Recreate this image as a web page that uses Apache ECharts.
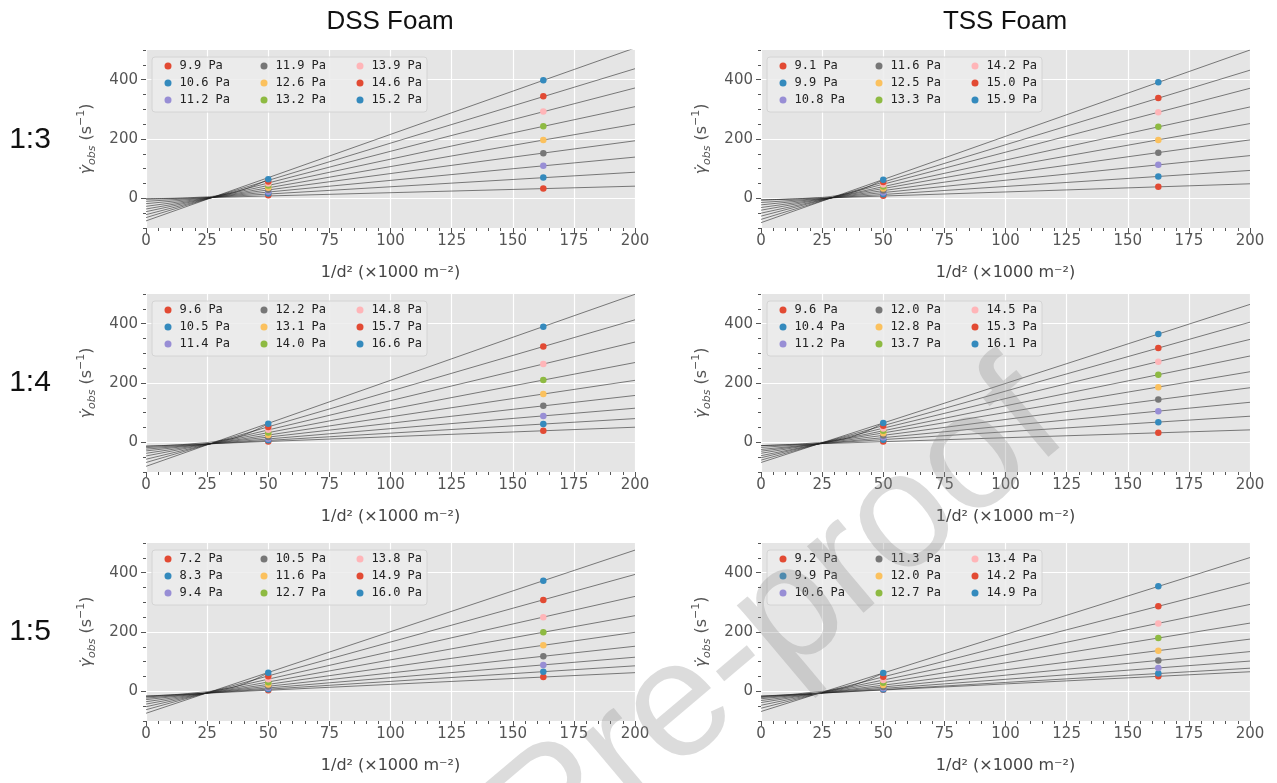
<!DOCTYPE html>
<html lang="en">
<head>
  <meta charset="UTF-8">
  <title>DSS / TSS Foam</title>
  <script src="https://cdn.jsdelivr.net/npm/echarts@6/dist/echarts.min.js"></script>
</head>
<body style="margin:0;background:#fff">
  <div id="main" style="width:1277px;height:783px;"></div>

<script>
  // ggplot colour cycle used for the stress levels
  const palette = ['#E24A33', '#348ABD', '#988ED5', '#777777', '#FBC15E', '#8EBA42', '#FFB5B8', '#E24A33', '#348ABD'];

  const fitX = [0, 200];          // fitted lines are drawn across the whole axis
  const pointX = [50, 162.5];     // the two measured 1/d^2 values
  const curveX = [0, 10, 20, 30, 40, 50];
  const yTicks = [0, 200, 400];

  // DSS 1:3
  const dss13Stress = ['9.9 Pa', '10.6 Pa', '11.2 Pa', '11.9 Pa', '12.6 Pa', '13.2 Pa', '13.9 Pa', '14.6 Pa', '15.2 Pa'];
  const dss13At50 = [10, 16, 22, 29, 36, 43, 50, 57, 64];
  const dss13At162 = [33, 70, 110, 152, 197, 243, 293, 344, 398];
  const dss13Fit0 = [-3, -10, -18, -27, -36, -45, -55, -65, -76];
  const dss13Fit200 = [41, 88, 139, 194, 250, 309, 372, 437, 507];
  const dss13Curve = [-1, 0, 3, 10, 30, 64];

  // TSS 1:3
  const tss13Stress = ['9.1 Pa', '9.9 Pa', '10.8 Pa', '11.6 Pa', '12.5 Pa', '13.3 Pa', '14.2 Pa', '15.0 Pa', '15.9 Pa'];
  const tss13At50 = [9, 14, 20, 26, 33, 40, 47, 55, 63];
  const tss13At162 = [39, 74, 113, 154, 197, 241, 290, 338, 391];
  const tss13Fit0 = [-6, -14, -22, -31, -40, -50, -60, -71, -82];
  const tss13Fit200 = [49, 94, 144, 197, 252, 308, 371, 432, 500];
  const tss13Curve = [-5, -3, 1, 8, 27, 63];

  // DSS 1:4
  const dss14Stress = ['9.6 Pa', '10.5 Pa', '11.4 Pa', '12.2 Pa', '13.1 Pa', '14.0 Pa', '14.8 Pa', '15.7 Pa', '16.6 Pa'];
  const dss14At50 = [3, 7, 12, 18, 25, 33, 42, 52, 63];
  const dss14At162 = [39, 62, 89, 123, 163, 210, 264, 323, 390];
  const dss14Fit0 = [-13, -18, -23, -29, -37, -46, -57, -68, -81];
  const dss14Fit200 = [51, 80, 115, 158, 209, 269, 338, 413, 499];
  const dss14Curve = [-13, -10, -4, 5, 25, 63];

  // TSS 1:4
  const tss14Stress = ['9.6 Pa', '10.4 Pa', '11.2 Pa', '12.0 Pa', '12.8 Pa', '13.7 Pa', '14.5 Pa', '15.3 Pa', '16.1 Pa'];
  const tss14At50 = [3, 9, 16, 23, 31, 39, 47, 56, 65];
  const tss14At162 = [32, 68, 105, 144, 186, 228, 272, 318, 365];
  const tss14Fit0 = [-11, -17, -24, -30, -37, -45, -52, -60, -68];
  const tss14Fit200 = [42, 88, 135, 184, 238, 291, 347, 405, 465];
  const tss14Curve = [-11, -8, -3, 6, 27, 65];

  // DSS 1:5
  const dss15Stress = ['7.2 Pa', '8.3 Pa', '9.4 Pa', '10.5 Pa', '11.6 Pa', '12.7 Pa', '13.8 Pa', '14.9 Pa', '16.0 Pa'];
  const dss15At50 = [4, 7, 11, 16, 23, 31, 41, 51, 63];
  const dss15At162 = [48, 66, 89, 118, 155, 199, 250, 308, 373];
  const dss15Fit0 = [-16, -19, -23, -28, -35, -43, -52, -62, -74];
  const dss15Fit200 = [63, 86, 115, 152, 199, 255, 320, 394, 476];
  const dss15Curve = [-16, -12, -5, 5, 25, 63];

  // TSS 1:5
  const tss15Stress = ['9.2 Pa', '9.9 Pa', '10.6 Pa', '11.3 Pa', '12.0 Pa', '12.7 Pa', '13.4 Pa', '14.2 Pa', '14.9 Pa'];
  const tss15At50 = [5, 6, 10, 15, 21, 29, 38, 49, 62];
  const tss15At162 = [51, 60, 79, 104, 137, 180, 229, 287, 354];
  const tss15Fit0 = [-16, -18, -21, -25, -31, -38, -47, -57, -68];
  const tss15Fit200 = [66, 78, 102, 134, 176, 230, 293, 366, 451];
  const tss15Curve = [-16, -12, -4, 6, 27, 62];

  const panels = [
    { key: 'dss13', stress: dss13Stress, at50: dss13At50, at162: dss13At162, fit0: dss13Fit0, fit200: dss13Fit200, curve: dss13Curve },
    { key: 'tss13', stress: tss13Stress, at50: tss13At50, at162: tss13At162, fit0: tss13Fit0, fit200: tss13Fit200, curve: tss13Curve },
    { key: 'dss14', stress: dss14Stress, at50: dss14At50, at162: dss14At162, fit0: dss14Fit0, fit200: dss14Fit200, curve: dss14Curve },
    { key: 'tss14', stress: tss14Stress, at50: tss14At50, at162: tss14At162, fit0: tss14Fit0, fit200: tss14Fit200, curve: tss14Curve },
    { key: 'dss15', stress: dss15Stress, at50: dss15At50, at162: dss15At162, fit0: dss15Fit0, fit200: dss15Fit200, curve: dss15Curve },
    { key: 'tss15', stress: tss15Stress, at50: tss15At50, at162: tss15At162, fit0: tss15Fit0, fit200: tss15Fit200, curve: tss15Curve }
  ];

  const colLeft = [146, 761];
  const rowTop = [50, 294, 543];
  const plotW = 489, plotH = 178;
  const tickColor = '#555';
  const labelFont = 'DejaVu Sans';

  const grid = [], xAxis = [], yAxis = [], series = [], legend = [], graphic = [];

  panels.forEach((p, g) => {
    const left = colLeft[g % 2];
    const top = rowTop[Math.floor(g / 2)];
    grid.push({ left: left, top: top, width: plotW, height: plotH, show: true, backgroundColor: '#E5E5E5', borderWidth: 0 });

    xAxis.push({
      gridIndex: g, type: 'value', min: 0, max: 200, interval: 25,
      name: '1/d² (×1000 m⁻²)', nameLocation: 'middle', nameGap: 37,
      nameTextStyle: { fontFamily: labelFont, fontSize: 16, color: '#444' },
      axisLine: { show: false, onZero: false },
      axisTick: { length: 5, lineStyle: { color: tickColor } },
      minorTick: { show: true, splitNumber: 5, length: 3, lineStyle: { color: tickColor } },
      axisLabel: { color: '#555', fontSize: 15, margin: 6, fontFamily: labelFont },
      splitLine: { lineStyle: { color: '#fff', width: 1.2 } }
    });

    yAxis.push({
      gridIndex: g, type: 'value', min: -100, max: 500, interval: 100, position: 'left',
      name: '{g|γ̇}{s|obs} (s{p|−1})', nameLocation: 'middle', nameGap: 48,
      nameTextStyle: {
        fontFamily: labelFont, fontSize: 16, color: '#555', lineHeight: 22,
        rich: {
          g: { fontFamily: labelFont, fontSize: 16, fontStyle: 'italic', color: '#555', lineHeight: 22 },
          s: { fontFamily: labelFont, fontSize: 11, fontStyle: 'italic', color: '#555', verticalAlign: 'bottom', lineHeight: 22, padding: [5, 0, 0, 0] },
          p: { fontFamily: labelFont, fontSize: 11, color: '#555', verticalAlign: 'top', lineHeight: 22, padding: [0, 0, 6, 0] }
        }
      },
      axisLine: { show: false, onZero: false },
      axisTick: { customValues: yTicks, length: 5, lineStyle: { color: tickColor } },
      axisLabel: { customValues: yTicks, color: '#555', fontSize: 15, margin: 8, fontFamily: labelFont },
      splitLine: { lineStyle: { color: '#fff', width: 1.2 } }
    });
    // second axis only for the small ticks every 50
    yAxis.push({
      gridIndex: g, type: 'value', min: -100, max: 500, interval: 50, position: 'left',
      axisLine: { show: false, onZero: false },
      axisTick: { length: 3, lineStyle: { color: tickColor } },
      axisLabel: { show: false },
      splitLine: { show: false }
    });

    const names = [];
    p.stress.forEach((s, i) => {
      series.push({
        type: 'line', xAxisIndex: g, yAxisIndex: g * 2, silent: true, symbol: 'none', z: 2,
        data: [[fitX[0], p.fit0[i]], [fitX[1], p.fit200[i]]],
        lineStyle: { color: 'rgba(30,30,30,0.7)', width: 0.8 }
      });
      const name = p.key + '|' + s;
      names.push(name);
      series.push({
        type: 'scatter', name: name, xAxisIndex: g, yAxisIndex: g * 2, z: 4,
        symbolSize: 6.5,
        data: [[pointX[0], p.at50[i]], [pointX[1], p.at162[i]]],
        itemStyle: { color: palette[i], opacity: 1 }
      });
    });
    series.push({
      type: 'line', xAxisIndex: g, yAxisIndex: g * 2, silent: true, symbol: 'none', smooth: true, z: 2,
      data: curveX.map((x, k) => [x, p.curve[k]]),
      lineStyle: { color: 'rgba(30,30,30,0.7)', width: 0.8 }
    });

    legend.push({
      data: names, orient: 'vertical', left: left + 18.5, top: top + 9, height: 52,
      padding: 0, itemGap: 3, itemWidth: 7, itemHeight: 7, icon: 'circle',
      selectedMode: false, z: 6,
      formatter: n => '{t|' + n.split('|')[1] + '}',
      textStyle: {
        fontFamily: 'DejaVu Sans Mono', fontSize: 12, color: '#222',
        rich: { t: { fontFamily: 'DejaVu Sans Mono', fontSize: 12, color: '#222', width: 78, height: 14, lineHeight: 14, padding: [0, 0, 0, 3] } }
      }
    });

    graphic.push({
      type: 'rect', z: 5,
      shape: { x: left + 6, y: top + 7, width: 275, height: 55, r: 3 },
      style: { fill: 'rgba(236,236,236,0.85)', stroke: '#d4d4d4', lineWidth: 1 }
    });
  });

  graphic.push(
    { type: 'text', x: 390, y: 22, z: 10, style: { text: 'DSS Foam', font: '26px "Liberation Sans"', fill: '#111', align: 'center', verticalAlign: 'middle' } },
    { type: 'text', x: 1005, y: 22, z: 10, style: { text: 'TSS Foam', font: '26px "Liberation Sans"', fill: '#111', align: 'center', verticalAlign: 'middle' } },
    { type: 'text', x: 30, y: 140, z: 10, style: { text: '1:3', font: '30px "Liberation Sans"', fill: '#111', align: 'center', verticalAlign: 'middle' } },
    { type: 'text', x: 30, y: 383, z: 10, style: { text: '1:4', font: '30px "Liberation Sans"', fill: '#111', align: 'center', verticalAlign: 'middle' } },
    { type: 'text', x: 30, y: 632, z: 10, style: { text: '1:5', font: '30px "Liberation Sans"', fill: '#111', align: 'center', verticalAlign: 'middle' } },
    // watermark
    { type: 'text', x: 1043, y: 402, rotation: 0.70, z: 100, silent: true,
      style: { text: 'Journal Pre-proof', font: '165px "Liberation Sans"', fill: 'rgba(140,140,140,0.3)', align: 'right', verticalAlign: 'middle' } }
  );

  const myChart = echarts.init(document.getElementById('main'));
  myChart.setOption({
    animation: false,
    backgroundColor: '#fff',
    grid: grid,
    xAxis: xAxis,
    yAxis: yAxis,
    legend: legend,
    series: series,
    graphic: graphic
  });
</script>
</body>
</html>
